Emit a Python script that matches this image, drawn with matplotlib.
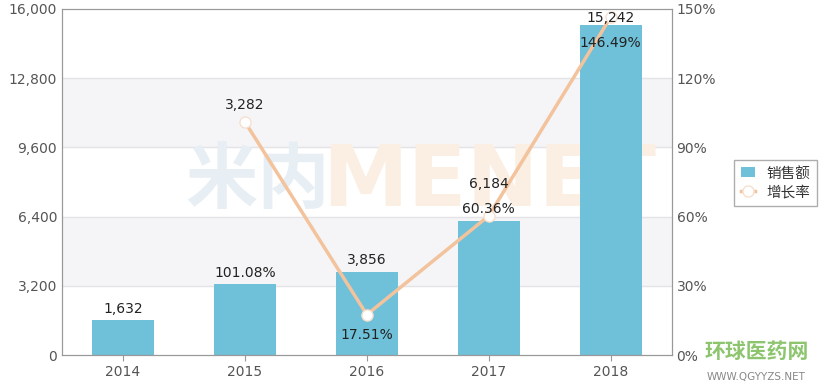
import matplotlib
matplotlib.use("Agg")
import matplotlib.pyplot as plt
import numpy as np

plt.rcParams['font.family'] = ['DejaVu Sans', 'Noto Sans CJK SC']

years = ['2014', '2015', '2016', '2017', '2018']
sales = [1632, 3282, 3856, 6184, 15242]
growth = [None, 101.08, 17.51, 60.36, 146.49]
bar_labels = ['1,632', '101.08%', '3,856', '6,184', '15,242']
pt_labels = [None, '3,282', '17.51%', '60.36%', '146.49%']
pt_offsets = [None, (0, 7), (0, -20), (0, 0), (0, -24)]
bar_offsets = [(0, 3), (0, 3), (0, 3), (0, 22), (0, 0)]

left_ticks = [0, 3200, 6400, 9600, 12800, 16000]
right_ticks = [0, 30, 60, 90, 120, 150]

fig = plt.figure(figsize=(8.24, 3.91), dpi=100)
ax = fig.add_axes([0.0752, 0.092, 0.740, 0.885])
x = np.arange(len(years))

# alternating bands
for i in range(len(left_ticks) - 1):
    if i % 2 == 1:
        ax.axhspan(left_ticks[i], left_ticks[i + 1], color='#f5f5f7', zorder=0)
for t in left_ticks[1:-1]:
    ax.axhline(t, color='#e4e4e8', lw=1, zorder=0.5)

# watermark
ax.text(0.32, 0.50, '米内', transform=ax.transAxes, fontsize=52, color='#e7eef4',
        ha='center', va='center', fontweight='bold', family=['Noto Sans CJK SC'], zorder=0.6)
ax.text(0.70, 0.50, 'MENET', transform=ax.transAxes, fontsize=62, color='#fbefe4',
        ha='center', va='center', fontweight='bold', zorder=0.6)

bars = ax.bar(x, sales, width=0.51, color='#6fc0d9', zorder=2, label='销售额')

ax.set_xlim(-0.5, len(years) - 0.5)
ax.set_ylim(0, 16000)
ax.set_yticks(left_ticks)
ax.set_yticklabels(['{:,}'.format(t) for t in left_ticks])
ax.set_xticks(x)
ax.set_xticklabels(years)

ax2 = ax.twinx()
gx = [xi for xi, g in zip(x, growth) if g is not None]
gy = [g for g in growth if g is not None]
line, = ax2.plot(gx, gy, color='#f2c39c', lw=2.5, marker='o', markersize=8,
                 markerfacecolor='white', markeredgecolor='#f5e0d0', markeredgewidth=1,
                 zorder=3, label='增长率')
ax2.set_ylim(0, 150)
ax2.set_yticks(right_ticks)
ax2.set_yticklabels(['{}%'.format(t) for t in right_ticks])

# labels drawn on top axes so the line does not cover them
for xi, v, lab, off in zip(x, sales, bar_labels, bar_offsets):
    ax2.annotate(lab, (xi, v), xycoords=ax.transData, xytext=off, textcoords='offset points',
                 ha='center', va='bottom', fontsize=10, color='#222222', zorder=5)
for xi, g, lab, off in zip(x, growth, pt_labels, pt_offsets):
    if g is None:
        continue
    ax2.annotate(lab, (xi, g), xytext=off, textcoords='offset points',
                 ha='center', va='bottom', fontsize=10, color='#222222', zorder=5)

for a in (ax, ax2):
    for s in a.spines.values():
        s.set_color('#999999')
    a.tick_params(colors='#555555', labelsize=10, length=0)
ax.tick_params(axis='x', length=4, color='#999999')

leg = fig.legend([bars, line], ['销售额', '增长率'], loc='upper left',
                 bbox_to_anchor=(0.882, 0.61), frameon=True,
                 prop={'family': ['Noto Sans CJK SC'], 'size': 10.5}, handlelength=1.0,
                 fancybox=False, edgecolor='#999999', borderpad=0.45, labelspacing=0.35)
for t in leg.get_texts():
    t.set_color('#333333')

# logo text bottom right
fig.text(0.918, 0.10, '环球医药网', fontsize=15, color='#8cc56e', fontweight='bold',
         family=['Noto Sans CJK SC'], ha='center', va='center')
fig.text(0.918, 0.035, 'WWW.QGYYZS.NET', fontsize=7.5, color='#888888', ha='center', va='center')

fig.savefig('out.png', dpi=100)
